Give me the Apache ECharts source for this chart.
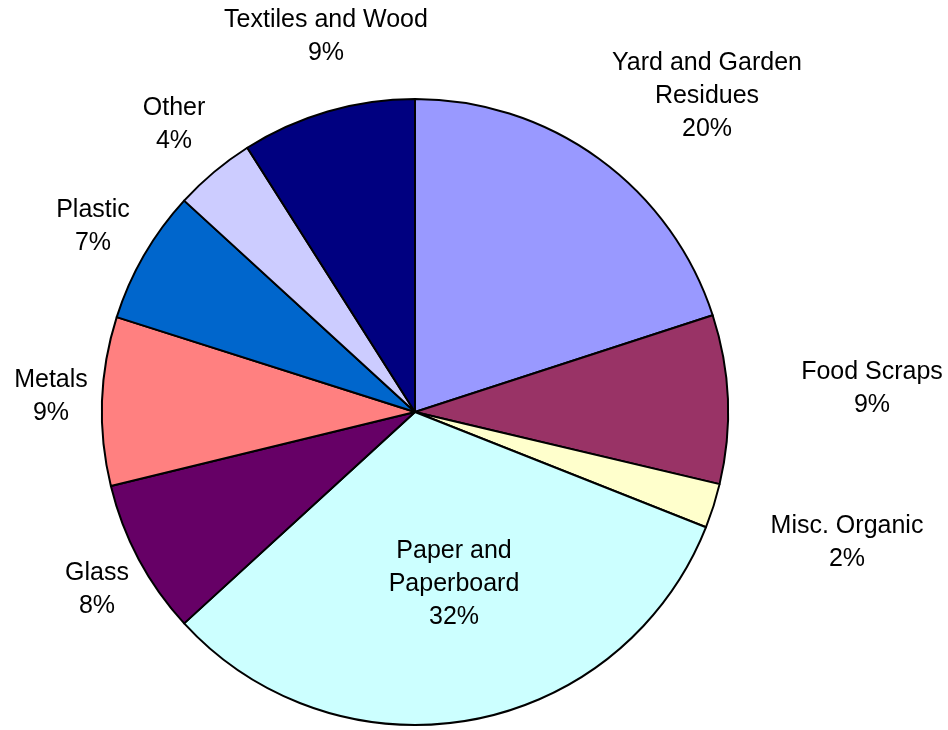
<!DOCTYPE html>
<html>
<head>
<meta charset="utf-8">
<script src="https://cdn.jsdelivr.net/npm/echarts@6/dist/echarts.min.js"></script>
<style>
  html, body { margin: 0; padding: 0; background: #ffffff; }
  #chart { width: 948px; height: 730px; }
</style>
</head>
<body>
<div id="chart"></div>
<script>
// Data (clockwise from 12 o'clock)
var categories = [
  'Yard and Garden\nResidues',
  'Food Scraps',
  'Misc. Organic',
  'Paper and\nPaperboard',
  'Glass',
  'Metals',
  'Plastic',
  'Other',
  'Textiles and Wood'
];
var shares = [20.0, 8.7, 2.3, 32.2, 8.0, 8.7, 6.9, 4.2, 9.0];
var colors = ['#9999FF', '#993366', '#FFFFCC', '#CCFFFF', '#660066', '#FF8080', '#0066CC', '#CCCCFF', '#000080'];

// Layout: label block centre offsets from the pie centre (px)
var labelOffset = [[292, -316], [457, -23], [432, 131], [39, 172], [-318, 178], [-364, -15], [-322, -185], [-241, -287], [-89, -375]];
var pieCenter = [415, 412];
var pieRadius = 313;

var chart = echarts.init(document.getElementById('chart'), null, { renderer: 'canvas' });

var seriesData = categories.map(function (c, i) {
  return { name: c, value: shares[i], itemStyle: { color: colors[i] } };
});

chart.setOption({
  backgroundColor: '#ffffff',
  animation: false,
  series: [{
    type: 'pie',
    center: pieCenter,
    radius: pieRadius,
    startAngle: 90,
    clockwise: true,
    percentPrecision: 0,
    data: seriesData,
    itemStyle: { borderColor: '#000000', borderWidth: 2 },
    emphasis: { disabled: true },
    labelLine: { show: false },
    label: {
      show: true,
      position: 'outside',
      alignTo: 'none',
      overflow: 'none',
      width: 260,
      formatter: '{b}\n{d}%',
      fontFamily: 'Liberation Sans, Arial, sans-serif',
      fontSize: 25,
      lineHeight: 33,
      color: '#000000'
    },
    labelLayout: function (params) {
      var o = labelOffset[params.dataIndex];
      return {
        x: pieCenter[0] + o[0],
        y: pieCenter[1] + o[1],
        align: 'center',
        verticalAlign: 'middle'
      };
    }
  }]
});
</script>
</body>
</html>
